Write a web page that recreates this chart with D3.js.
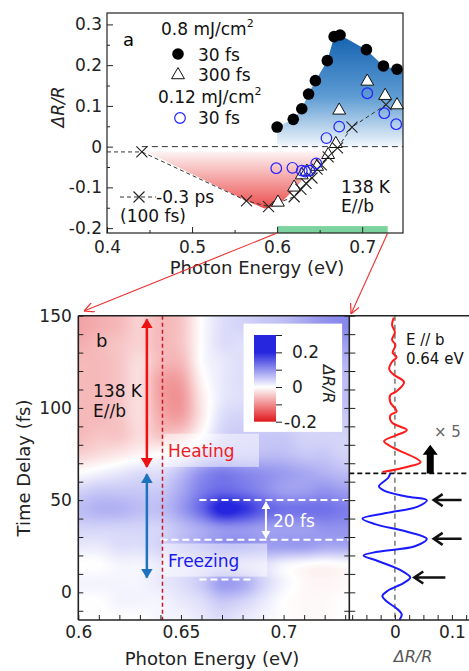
<!DOCTYPE html>
<html>
<head>
<meta charset="utf-8">
<script src="https://cdn.jsdelivr.net/npm/d3@7/dist/d3.min.js"></script>
<style>
  body { margin: 0; background: #fff; }
  svg text { font-family: "DejaVu Sans", sans-serif; }
</style>
</head>
<body>
<svg id="chart" width="469" height="671"></svg>
<script>
// ===== panel a : spectra  [photon energy (eV), dR/R]
var dots30fs = [[0.600,0.048],[0.619,0.067],[0.629,0.093],[0.637,0.129],[0.645,0.162],[0.659,0.211],[0.667,0.270],[0.674,0.274],[0.705,0.238],[0.725,0.198],[0.741,0.190]];
var tri300fs = [[0.601,-0.137],[0.620,-0.100],[0.629,-0.070],[0.635,-0.061],[0.647,-0.049],[0.660,-0.020],[0.669,0.007],[0.673,0.089],[0.706,0.160],[0.727,0.125],[0.741,0.102]];
var circLow30fs = [[0.599,-0.053],[0.618,-0.052],[0.629,-0.059],[0.633,-0.061],[0.638,-0.059],[0.646,-0.041],[0.658,0.021],[0.673,0.049],[0.706,0.131],[0.726,0.082],[0.740,0.055]];
var cross03ps = [[0.441,-0.013],[0.564,-0.133],[0.590,-0.147],[0.620,-0.123],[0.628,-0.105],[0.634,-0.090],[0.641,-0.077],[0.647,-0.055],[0.652,-0.045],[0.660,-0.025],[0.671,-0.003],[0.688,0.048],[0.728,0.103]];
var redShade = [[0.446,-0.012],[0.564,-0.133],[0.585,-0.152],[0.601,-0.145],[0.620,-0.105],[0.632,-0.075],[0.645,-0.050],[0.655,-0.030],[0.660,-0.012]];
var probeRange = [0.6, 0.73];

var aTicksY = [-0.2,-0.1,0,0.1,0.2,0.3];
var aMinorY = [-0.15,-0.05,0.05,0.15,0.25];
var aTicksX = [0.4,0.5,0.6,0.7];
var aMinorX = [0.45,0.55,0.65];

// ===== panel b : dR/R map, energies (columns) x delays (rows, top to bottom)
var mapEnergy = [0.60,0.61,0.62,0.63,0.64,0.65,0.66,0.67,0.68,0.69,0.70,0.71,0.72,0.73];
var mapDelay = [145,135,125,115,105,95,85,75,65,55,45,35,25,15,5,-5,-15];
var mapValues = [
  [-0.08,-0.07,-0.06,-0.04,-0.06,-0.05,0.00,0.03,0.04,0.05,0.06,0.08,0.10,0.11],
  [-0.07,-0.06,-0.05,-0.04,-0.06,-0.05,0.00,0.03,0.03,0.04,0.05,0.06,0.08,0.09],
  [-0.06,-0.06,-0.05,-0.03,-0.06,-0.06,0.00,0.02,0.03,0.03,0.04,0.05,0.06,0.07],
  [-0.06,-0.06,-0.05,-0.03,-0.08,-0.08,-0.01,0.02,0.03,0.03,0.04,0.04,0.05,0.06],
  [-0.06,-0.06,-0.05,-0.03,-0.08,-0.09,-0.02,0.02,0.03,0.04,0.04,0.04,0.05,0.06],
  [-0.06,-0.06,-0.05,-0.03,-0.07,-0.08,-0.02,0.03,0.04,0.04,0.04,0.04,0.05,0.05],
  [-0.06,-0.05,-0.05,-0.03,-0.05,-0.04,0.00,0.04,0.05,0.05,0.05,0.04,0.04,0.04],
  [-0.04,-0.03,-0.02,-0.01,0.00,0.01,0.04,0.06,0.06,0.06,0.06,0.05,0.05,0.04],
  [0.00,0.01,0.02,0.03,0.03,0.06,0.10,0.12,0.11,0.10,0.09,0.08,0.07,0.06],
  [0.04,0.05,0.05,0.05,0.05,0.08,0.12,0.14,0.13,0.11,0.09,0.09,0.10,0.09],
  [0.06,0.07,0.07,0.06,0.06,0.09,0.14,0.21,0.19,0.15,0.13,0.13,0.13,0.12],
  [0.04,0.04,0.04,0.04,0.04,0.06,0.08,0.10,0.10,0.09,0.09,0.09,0.10,0.10],
  [0.02,0.02,0.03,0.03,0.04,0.06,0.08,0.10,0.10,0.09,0.09,0.09,0.08,0.08],
  [0.00,0.00,0.01,0.01,0.02,0.03,0.04,0.05,0.04,0.03,0.01,0.00,-0.005,0.00],
  [0.01,0.01,0.01,0.01,0.02,0.03,0.05,0.09,0.08,0.04,0.01,-0.005,-0.008,-0.005],
  [0.00,0.00,0.01,0.01,0.01,0.02,0.03,0.05,0.04,0.02,0.00,-0.005,-0.005,0.00],
  [0.00,0.00,0.00,0.00,0.01,0.01,0.02,0.03,0.02,0.01,0.00,-0.005,-0.005,0.00]
];
var cbTicks = [-0.2,-0.1,0,0.1,0.2,0.3];
var cbLabels = [-0.2,0,0.2];
var bTicksX = [0.60,0.61,0.62,0.63,0.64,0.65,0.66,0.67,0.68,0.69,0.70,0.71,0.72,0.73];
var bLabelsX = [0.6,0.65,0.7];
var bTicksY = [-10,0,10,20,30,40,50,60,70,80,90,100,110,120,130,140,150];
var bLabelsY = [0,50,100,150];
var probeEnergy = 0.641;
var periodLines = [[50,0.659,0.732],[28.5,0.640,0.732],[7,0.659,0.685]];

// ===== right panel : dR/R at 0.64 eV vs delay
var redDelay = [149,145,141,137,134,130,127.5,125,121,118,114,109,107,103,99.5,98,96,92,88,85,82,79.6,77,70.6,68,65.2];
var redVal = [-0.002,-0.005,0.0,-0.005,0.001,-0.004,0.003,-0.005,-0.010,-0.002,0.016,0.003,-0.008,-0.008,0.001,0.003,-0.008,-0.005,0.021,0.001,-0.019,-0.010,0.007,0.045,0.021,-0.022];
var blueDelay = [64.5,62,57.5,55,52,50,46.5,43,40,37,33,29,25,22,20,17,12,8,5,1,-2,-5,-9,-12,-15];
var blueVal = [-0.008,-0.012,-0.028,-0.018,0.020,0.056,0.040,-0.015,-0.057,-0.035,0.020,0.056,0.035,-0.030,-0.055,-0.030,0.010,0.027,0.015,-0.012,-0.022,-0.014,0.004,0.012,0.008];
var peakDelays = [50, 29, 8];
var splitDelay = 64.5;
var cTicksX = [-0.075,-0.05,-0.025,0,0.025,0.05,0.075,0.1,0.125];

var svg = d3.select("#chart");
var defs = svg.append("defs");

// ---------------- panel a
var xA = d3.scaleLinear().domain([0.4, 0.748]).range([107, 403]);
var yA = d3.scaleLinear().domain([-0.212, 0.328]).range([233, 13]);

var gBlue = defs.append("linearGradient").attr("id", "gBlue").attr("gradientUnits", "userSpaceOnUse")
  .attr("x1", 0).attr("x2", 0).attr("y1", yA(0.275)).attr("y2", yA(0));
gBlue.append("stop").attr("offset", 0).attr("stop-color", "#1462b0");
gBlue.append("stop").attr("offset", 0.55).attr("stop-color", "#5d9bd3");
gBlue.append("stop").attr("offset", 1).attr("stop-color", "#f2f7fc");
var gRed = defs.append("linearGradient").attr("id", "gRed").attr("gradientUnits", "userSpaceOnUse")
  .attr("x1", 0).attr("x2", 0).attr("y1", yA(-0.012)).attr("y2", yA(-0.152));
gRed.append("stop").attr("offset", 0).attr("stop-color", "#fdf4f4");
gRed.append("stop").attr("offset", 1).attr("stop-color", "#ec4d4d");

var pa = svg.append("g");
var blueEdge = dots30fs.concat([[xA.domain()[1], dots30fs[dots30fs.length - 1][1]]]);
pa.append("path").datum(blueEdge)
  .attr("d", d3.area().x(d => xA(d[0])).y0(yA(0)).y1(d => yA(d[1])))
  .attr("fill", "url(#gBlue)");
pa.append("path").datum(redShade)
  .attr("d", d => d3.line().x(p => xA(p[0])).y(p => yA(p[1]))(d) + "Z")
  .attr("fill", "url(#gRed)");

pa.append("rect")
  .attr("x", xA(probeRange[0])).attr("width", xA(probeRange[1]) - xA(probeRange[0]))
  .attr("y", yA(-0.195)).attr("height", yA(-0.212) - yA(-0.195))
  .attr("fill", "#7dd3a0");

pa.append("line")
  .attr("x1", xA(cross03ps[0][0])).attr("x2", xA.range()[1])
  .attr("y1", yA(0)).attr("y2", yA(0))
  .attr("stroke", "#333").attr("stroke-dasharray", "6,4").attr("stroke-width", 1);
pa.append("path").datum([[xA.domain()[0], cross03ps[0][1]]].concat(cross03ps))
  .attr("d", d3.line().x(d => xA(d[0])).y(d => yA(d[1])))
  .attr("fill", "none").attr("stroke", "#333").attr("stroke-dasharray", "4,3").attr("stroke-width", 1);

var triSym = d3.symbol(d3.symbolTriangle, 72);
pa.selectAll(".tri").data(tri300fs).enter().append("path")
  .attr("d", triSym).attr("transform", d => "translate(" + xA(d[0]) + "," + yA(d[1]) + ")")
  .attr("fill", "#fff").attr("stroke", "#111").attr("stroke-width", 1);
pa.selectAll(".crs").data(cross03ps).enter().append("path")
  .attr("d", "M-5.5,-5.5L5.5,5.5M-5.5,5.5L5.5,-5.5")
  .attr("transform", d => "translate(" + xA(d[0]) + "," + yA(d[1]) + ")")
  .attr("stroke", "#222").attr("stroke-width", 1.1);
pa.selectAll(".oc").data(circLow30fs).enter().append("circle")
  .attr("cx", d => xA(d[0])).attr("cy", d => yA(d[1])).attr("r", 5.3)
  .attr("fill", "none").attr("stroke", "#2222ff").attr("stroke-width", 1.2);
pa.selectAll(".dot").data(dots30fs).enter().append("circle")
  .attr("cx", d => xA(d[0])).attr("cy", d => yA(d[1])).attr("r", 5.8)
  .attr("fill", "#000");

pa.append("rect").attr("x", xA.range()[0]).attr("y", yA.range()[1])
  .attr("width", xA.range()[1] - xA.range()[0]).attr("height", yA.range()[0] - yA.range()[1])
  .attr("fill", "none").attr("stroke", "#222").attr("stroke-width", 1.2);

function styleAxis(g, size) {
  g.select(".domain").remove();
  g.attr("font-family", null).attr("font-size", size);
  g.selectAll("line").attr("stroke", "#222");
  g.selectAll("text").attr("fill", "#222");
}
pa.append("g").attr("transform", "translate(" + xA.range()[0] + ",0)")
  .call(d3.axisLeft(yA).tickValues(aTicksY).tickSize(-6).tickPadding(5).tickFormat(d => d === 0 ? "0" : String(d)))
  .call(styleAxis, 17);
pa.append("g").attr("transform", "translate(" + xA.range()[0] + ",0)")
  .call(d3.axisLeft(yA).tickValues(aMinorY).tickSize(-3).tickFormat(""))
  .call(styleAxis, 17);
pa.append("g").attr("transform", "translate(0," + yA.range()[0] + ")")
  .call(d3.axisBottom(xA).tickValues(aTicksX).tickSize(-6).tickPadding(7.5).tickFormat(d3.format(".1f")))
  .call(styleAxis, 17);
pa.append("g").attr("transform", "translate(0," + yA.range()[0] + ")")
  .call(d3.axisBottom(xA).tickValues(aMinorX).tickSize(-3).tickFormat(""))
  .call(styleAxis, 17);

pa.append("text").attr("x", 257).attr("y", 274).attr("text-anchor", "middle")
  .attr("font-size", 18).attr("fill", "#222").text("Photon Energy (eV)");
pa.append("text").attr("transform", "translate(64,107) rotate(-90)").attr("text-anchor", "middle")
  .attr("font-size", 17).attr("font-style", "italic").attr("fill", "#222").text("ΔR/R");

// legend / annotations of panel a
pa.append("text").attr("x", 123).attr("y", 46).attr("font-size", 18).text("a");
var lg = pa.append("g").attr("font-size", 17).attr("fill", "#111");
var t1 = lg.append("text").attr("x", 161).attr("y", 35).text("0.8 mJ/cm");
t1.append("tspan").attr("dy", -8).attr("font-size", 11).text("2");
lg.append("circle").attr("cx", 178).attr("cy", 54).attr("r", 5.8).attr("fill", "#000");
lg.append("text").attr("x", 198).attr("y", 61).text("30 fs");
lg.append("path").attr("d", triSym).attr("transform", "translate(178,75)")
  .attr("fill", "#fff").attr("stroke", "#111");
lg.append("text").attr("x", 198).attr("y", 81).text("300 fs");
var t2 = lg.append("text").attr("x", 158).attr("y", 103).text("0.12 mJ/cm");
t2.append("tspan").attr("dy", -8).attr("font-size", 11).text("2");
lg.append("circle").attr("cx", 180).attr("cy", 118).attr("r", 5.3)
  .attr("fill", "none").attr("stroke", "#2222ff").attr("stroke-width", 1.2);
lg.append("text").attr("x", 198).attr("y", 124).text("30 fs");

lg.append("line").attr("x1", 120).attr("x2", 156).attr("y1", 197).attr("y2", 197)
  .attr("stroke", "#333").attr("stroke-dasharray", "4,3");
lg.append("path").attr("d", "M-5.5,-5.5L5.5,5.5M-5.5,5.5L5.5,-5.5").attr("transform", "translate(139,197)")
  .attr("stroke", "#222").attr("stroke-width", 1.1);
lg.append("text").attr("x", 156).attr("y", 203).text("-0.3 ps");
lg.append("text").attr("x", 120).attr("y", 222).text("(100 fs)");
lg.append("text").attr("x", 341).attr("y", 193).text("138 K");
lg.append("text").attr("x", 341).attr("y", 212).text("E//b");

// ---------------- panel b
var x2 = d3.scaleLinear().domain([0.6, 0.732]).range([78.3, 349.3]);
var y2 = d3.scaleLinear().domain([-15, 150]).range([620, 315.7]);
var color = d3.scaleLinear().domain([-0.2, 0, 0.2]).range(["#e0181c", "#ffffff", "#2626de"]).clamp(true);

// bicubic (Catmull-Rom) sampling of the map grid
function cr(p0, p1, p2, p3, t) {
  return 0.5 * ((2 * p1) + (-p0 + p2) * t + (2 * p0 - 5 * p1 + 4 * p2 - p3) * t * t + (-p0 + 3 * p1 - 3 * p2 + p3) * t * t * t);
}
function cell(j, i) {
  j = Math.max(0, Math.min(mapDelay.length - 1, j));
  i = Math.max(0, Math.min(mapEnergy.length - 1, i));
  return mapValues[j][i];
}
function mapAt(e, d) {
  var fi = (e - mapEnergy[0]) / (mapEnergy[1] - mapEnergy[0]);
  var fj = (mapDelay[0] - d) / (mapDelay[0] - mapDelay[1]);
  fi = Math.max(0, Math.min(mapEnergy.length - 1, fi));
  fj = Math.max(0, Math.min(mapDelay.length - 1, fj));
  var i0 = Math.min(Math.floor(fi), mapEnergy.length - 2), j0 = Math.min(Math.floor(fj), mapDelay.length - 2);
  var ti = fi - i0, tj = fj - j0;
  var rows = [];
  for (var r = -1; r <= 2; r++) {
    rows.push(cr(cell(j0 + r, i0 - 1), cell(j0 + r, i0), cell(j0 + r, i0 + 1), cell(j0 + r, i0 + 2), ti));
  }
  return cr(rows[0], rows[1], rows[2], rows[3], tj);
}
var px0 = x2.range()[0], py0 = y2.range()[1];
var cw = Math.round(x2.range()[1] - px0), ch = Math.round(y2.range()[0] - py0);
var canvas = document.createElement("canvas");
canvas.width = cw; canvas.height = ch;
var ctx = canvas.getContext("2d");
var img = ctx.createImageData(cw, ch);
for (var j = 0; j < ch; j++) {
  for (var i = 0; i < cw; i++) {
    var c = d3.rgb(color(mapAt(x2.invert(px0 + i + 0.5), y2.invert(py0 + j + 0.5))));
    var k = (j * cw + i) * 4;
    img.data[k] = c.r; img.data[k + 1] = c.g; img.data[k + 2] = c.b; img.data[k + 3] = 255;
  }
}
ctx.putImageData(img, 0, 0);
var pb = svg.append("g");
pb.append("image").attr("href", canvas.toDataURL()).attr("x", px0).attr("y", py0)
  .attr("width", cw).attr("height", ch).attr("preserveAspectRatio", "none");

// translucent label boxes
pb.append("rect").attr("x", x2(0.6415)).attr("y", y2(86)).attr("width", x2(0.688) - x2(0.6415))
  .attr("height", y2(68) - y2(86)).attr("fill", "#fff").attr("opacity", 0.5);
pb.append("rect").attr("x", x2(0.6407)).attr("y", y2(26.5)).attr("width", x2(0.692) - x2(0.6407))
  .attr("height", y2(8.5) - y2(26.5)).attr("fill", "#fff").attr("opacity", 0.5);

// white dashed period lines
pb.selectAll(".per").data(periodLines).enter().append("line")
  .attr("x1", d => x2(d[1])).attr("x2", d => x2(d[2])).attr("y1", d => y2(d[0])).attr("y2", d => y2(d[0]))
  .attr("stroke", "#fff").attr("stroke-width", 2).attr("stroke-dasharray", "7,4");

function arrowMarker(id, col, w, h) {
  defs.append("marker").attr("id", id).attr("viewBox", "0 0 10 10").attr("refX", 9).attr("refY", 5)
    .attr("markerUnits", "userSpaceOnUse").attr("markerWidth", w).attr("markerHeight", h)
    .attr("preserveAspectRatio", "none").attr("orient", "auto-start-reverse")
    .append("path").attr("d", "M0,0L10,5L0,10z").attr("fill", col);
}
arrowMarker("mRed", "#ee1111", 10, 12);
arrowMarker("mBlue", "#1e73be", 10, 12);
arrowMarker("mWhite", "#fff", 8, 9);

var arrowE = 0.6334;
pb.append("line").attr("x1", x2(arrowE)).attr("x2", x2(arrowE)).attr("y1", y2(148)).attr("y2", y2(68))
  .attr("stroke", "#ee1111").attr("stroke-width", 2.5)
  .attr("marker-start", "url(#mRed)").attr("marker-end", "url(#mRed)");
pb.append("line").attr("x1", x2(arrowE)).attr("x2", x2(arrowE)).attr("y1", y2(64)).attr("y2", y2(8))
  .attr("stroke", "#1e73be").attr("stroke-width", 2.5)
  .attr("marker-start", "url(#mBlue)").attr("marker-end", "url(#mBlue)");
pb.append("line").attr("x1", x2(0.6914)).attr("x2", x2(0.6914)).attr("y1", y2(49)).attr("y2", y2(29.5))
  .attr("stroke", "#fff").attr("stroke-width", 2)
  .attr("marker-start", "url(#mWhite)").attr("marker-end", "url(#mWhite)");

pb.append("line").attr("x1", x2(probeEnergy)).attr("x2", x2(probeEnergy))
  .attr("y1", y2.range()[1]).attr("y2", y2.range()[0])
  .attr("stroke", "#c41a22").attr("stroke-width", 1.5).attr("stroke-dasharray", "4,3");

pb.append("text").attr("x", 168).attr("y", 457).attr("font-size", 17).attr("fill", "#ee1c24").text("Heating");
pb.append("text").attr("x", 168).attr("y", 567).attr("font-size", 17).attr("fill", "#1a1aee").text("Freezing");
pb.append("text").attr("x", 273).attr("y", 527).attr("font-size", 17).attr("fill", "#fff").text("20 fs");
pb.append("text").attr("x", 96).attr("y", 347).attr("font-size", 18).attr("fill", "#111").text("b");
pb.append("text").attr("x", 93).attr("y", 397).attr("font-size", 17).attr("fill", "#111").text("138 K");
pb.append("text").attr("x", 93).attr("y", 417).attr("font-size", 17).attr("fill", "#111").text("E//b");

// colour bar
var cbY = d3.scaleLinear().domain([-0.2, 0.3]).range([421.7, 335]);
pb.append("rect").attr("x", x2(0.6805)).attr("y", y2(145.7)).attr("width", x2(0.7285) - x2(0.6805))
  .attr("height", y2(87) - y2(145.7)).attr("fill", "#fff");
var gCb = defs.append("linearGradient").attr("id", "gCb").attr("gradientUnits", "userSpaceOnUse")
  .attr("x1", 0).attr("x2", 0).attr("y1", cbY(-0.2)).attr("y2", cbY(0.3));
cbTicks.forEach(function(v) {
  gCb.append("stop").attr("offset", (v + 0.2) / 0.5).attr("stop-color", color(v));
});
pb.append("rect").attr("x", 254).attr("width", 22).attr("y", cbY(0.3)).attr("height", cbY(-0.2) - cbY(0.3))
  .attr("fill", "url(#gCb)");
pb.append("g").attr("transform", "translate(276,0)")
  .call(d3.axisRight(cbY).tickValues(cbTicks).tickSize(6).tickPadding(10)
    .tickFormat(d => cbLabels.some(l => Math.abs(l - d) < 1e-9) ? (Math.abs(d) < 1e-9 ? "0" : String(d)) : ""))
  .call(styleAxis, 17)
  .selectAll("text").attr("dx", d => d < 0 ? -8 : 0);
pb.append("text").attr("transform", "translate(323,384) rotate(90)").attr("text-anchor", "middle")
  .attr("font-size", 16).attr("font-style", "italic").attr("fill", "#222").text("ΔR/R");

// frame + axes for panel b
pb.append("g").attr("transform", "translate(" + x2.range()[0] + ",0)")
  .call(d3.axisLeft(y2).tickValues(bTicksY).tickSize(-5).tickPadding(6.5)
    .tickFormat(d => bLabelsY.indexOf(d) >= 0 ? String(d) : ""))
  .call(styleAxis, 17);
pb.append("g").attr("transform", "translate(" + x2.range()[1] + ",0)")
  .call(d3.axisRight(y2).tickValues(bTicksY).tickSize(-5).tickFormat(""))
  .call(styleAxis, 17);
pb.append("g").attr("transform", "translate(0," + y2.range()[0] + ")")
  .call(d3.axisBottom(x2).tickValues(bTicksX).tickSize(-5).tickPadding(6.2)
    .tickFormat(d => bLabelsX.some(l => Math.abs(l - d) < 1e-9) ? String(+d.toFixed(2)) : ""))
  .call(styleAxis, 17);
pb.append("text").attr("x", 212).attr("y", 665).attr("text-anchor", "middle")
  .attr("font-size", 18).attr("fill", "#222").text("Photon Energy (eV)");
pb.append("text").attr("transform", "translate(30,468) rotate(-90)").attr("text-anchor", "middle")
  .attr("font-size", 18).attr("fill", "#222").text("Time Delay (fs)");

// ---------------- right panel
var x3 = d3.scaleLinear().domain([-0.08, 0.13]).range([349.3, 469]);
var pc = svg.append("g");
pc.append("line").attr("x1", x3(0)).attr("x2", x3(0)).attr("y1", y2.range()[1]).attr("y2", y2.range()[0])
  .attr("stroke", "#777").attr("stroke-width", 1.5).attr("stroke-dasharray", "5,4");
pc.append("line").attr("x1", x3.range()[0]).attr("x2", x3.range()[1]).attr("y1", y2(splitDelay)).attr("y2", y2(splitDelay))
  .attr("stroke", "#111").attr("stroke-width", 1.6).attr("stroke-dasharray", "5,3");

var traceLine = d3.line().curve(d3.curveCatmullRom.alpha(0.5)).x(d => x3(d[1])).y(d => y2(d[0]));
pc.append("path").datum(redDelay.map((d, i) => [d, redVal[i]])).attr("d", traceLine)
  .attr("fill", "none").attr("stroke", "#ff1a1a").attr("stroke-width", 2);
pc.append("path").datum(blueDelay.map((d, i) => [d, blueVal[i]])).attr("d", traceLine)
  .attr("fill", "none").attr("stroke", "#1a1aff").attr("stroke-width", 2);

// black arrows marking peaks
var arrowTips = [0.068, 0.068, 0.034];
var arrowTails = [0.117, 0.117, 0.0885];
pc.selectAll(".pk").data(peakDelays).enter().append("path")
  .attr("d", function(d, i) {
    var tx = x3(arrowTips[i]), ty = y2(d), ex = x3(arrowTails[i]);
    return "M" + ex + "," + ty + "L" + tx + "," + ty + "M" + (tx + 9) + "," + (ty - 6) + "L" + tx + "," + ty + "L" + (tx + 9) + "," + (ty + 6);
  })
  .attr("fill", "none").attr("stroke", "#111").attr("stroke-width", 2.5);
// thick up arrow (x5)
var ux = x3(0.062), uy0 = y2(splitDelay), uy1 = y2(80);
pc.append("path")
  .attr("d", "M" + (ux - 3.5) + "," + uy0 + "L" + (ux - 3.5) + "," + (uy1 + 10) + "L" + (ux - 7.5) + "," + (uy1 + 10) +
    "L" + ux + "," + uy1 + "L" + (ux + 7.5) + "," + (uy1 + 10) + "L" + (ux + 3.5) + "," + (uy1 + 10) + "L" + (ux + 3.5) + "," + uy0 + "Z")
  .attr("fill", "#000");
pc.append("text").attr("x", 434).attr("y", 437).attr("font-size", 15).attr("fill", "#666").text("× 5");
pc.append("text").attr("x", 406).attr("y", 345).attr("font-size", 15).attr("fill", "#111").text("E // b");
pc.append("text").attr("x", 406).attr("y", 364).attr("font-size", 15).attr("fill", "#111").text("0.64 eV");

pc.append("g").attr("transform", "translate(" + x3.range()[0] + ",0)")
  .call(d3.axisRight(y2).tickValues(bTicksY).tickSize(6).tickFormat(""))
  .call(styleAxis, 17);
pc.append("g").attr("transform", "translate(0," + y2.range()[0] + ")")
  .call(d3.axisBottom(x3).tickValues(cTicksX).tickSize(-5).tickPadding(6.2)
    .tickFormat(d => Math.abs(d) < 1e-9 ? "0" : (Math.abs(d - 0.1) < 1e-9 ? "0.1" : "")))
  .call(styleAxis, 17);
pc.append("text").attr("x", 413).attr("y", 662).attr("text-anchor", "middle")
  .attr("font-size", 16).attr("font-style", "italic").attr("fill", "#555").text("ΔR/R");

// frame lines of lower panels
var fr = svg.append("g").attr("stroke", "#222").attr("stroke-width", 1.6);
fr.append("line").attr("x1", x2.range()[0]).attr("x2", 469).attr("y1", y2.range()[1]).attr("y2", y2.range()[1]);
fr.append("line").attr("x1", x2.range()[0]).attr("x2", 469).attr("y1", y2.range()[0]).attr("y2", y2.range()[0]);
fr.append("line").attr("x1", x2.range()[0]).attr("x2", x2.range()[0]).attr("y1", y2.range()[1]).attr("y2", y2.range()[0]);
fr.append("line").attr("x1", x2.range()[1]).attr("x2", x2.range()[1]).attr("y1", y2.range()[1]).attr("y2", y2.range()[0]);

// red connector lines from the probed window
defs.append("marker").attr("id", "mOpen").attr("viewBox", "0 0 10 10").attr("refX", 10).attr("refY", 5)
  .attr("markerUnits", "userSpaceOnUse").attr("markerWidth", 10).attr("markerHeight", 10).attr("orient", "auto")
  .append("path").attr("d", "M0,0L10,5L0,10").attr("fill", "none").attr("stroke", "#ee3030").attr("stroke-width", 1.2);
svg.append("line").attr("x1", xA(probeRange[0])).attr("y1", yA.range()[0]).attr("x2", 84).attr("y2", 311)
  .attr("stroke", "#ee3030").attr("stroke-width", 1.1).attr("marker-end", "url(#mOpen)");
svg.append("line").attr("x1", xA(probeRange[1])).attr("y1", yA.range()[0]).attr("x2", 351).attr("y2", 314)
  .attr("stroke", "#ee3030").attr("stroke-width", 1.1).attr("marker-end", "url(#mOpen)");
</script>
</body>
</html>
